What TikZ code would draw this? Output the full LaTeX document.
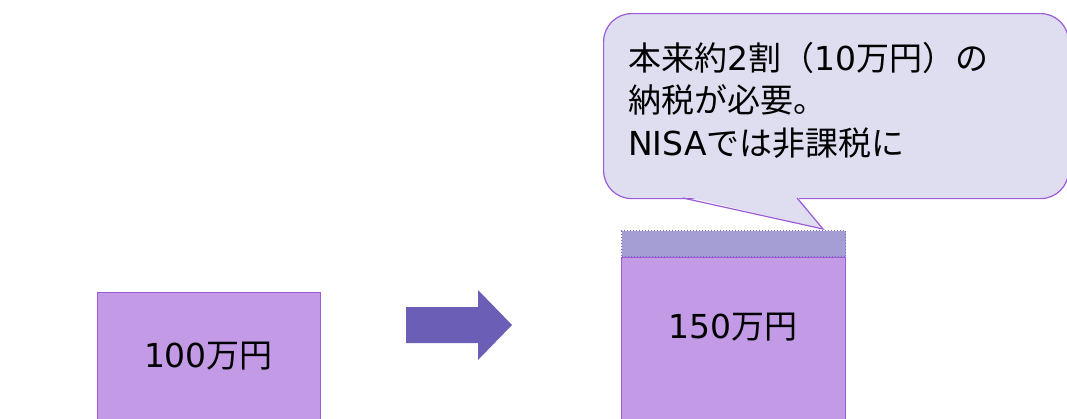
\documentclass[tikz,border=0pt]{standalone}
\usepackage{fontspec}
\setmainfont{Noto Sans CJK JP}
\newfontfamily\lat{DejaVu Sans}
\definecolor{boxfill}{HTML}{C39AE6}
\definecolor{boxline}{HTML}{9B5CD6}
\definecolor{arrowc}{HTML}{6A5EB7}
\definecolor{bandfill}{HTML}{A49ED4}
\definecolor{bandline}{HTML}{7B6BC9}
\definecolor{notefill}{HTML}{DFDEF0}
\tikzset{
  amount/.style={draw=boxline, fill=boxfill, line width=1.2pt, inner sep=0pt},
  band/.style={draw=bandline, fill=bandfill, dotted, line width=1pt, inner sep=0pt},
  notebox/.style={draw=boxline, fill=notefill, line width=1.2pt, rounded corners=28pt, inner sep=0pt},
  bigtext/.style={font=\fontsize{33}{42.5}\selectfont, inner sep=0pt},
}
\begin{document}
\begin{tikzpicture}[x=1pt,y=-1pt]
\useasboundingbox (0,0) rectangle (1067,418);
\begin{scope}
\clip (0,0) rectangle (1067,418);
% left box
\node[amount, minimum width=223pt, minimum height=140pt, anchor=north west] (old) at (97,292) {};
\node[bigtext, anchor=base] (oldtxt) at (208.5,367) {{\lat 100}万円};
% arrow
\fill[arrowc] (406,307) -- (478,307) -- (478,290) -- (512,325) -- (478,360) -- (478,343) -- (406,343) -- cycle;
% right box
\node[amount, minimum width=224pt, minimum height=175pt, anchor=north west] (new) at (621,257) {};
\node[band, minimum width=224pt, minimum height=26pt, anchor=south west] (tax) at (621,257) {};
\node[bigtext, anchor=base] (newtxt) at (733,338) {{\lat 150}万円};
% callout
\node[notebox, minimum width=465pt, minimum height=185pt, anchor=north west] (note) at (603,13) {};
\coordinate (tip) at (823,229);
\fill[notefill] (683,196) -- (tip) -- (797,196) -- cycle;
\draw[boxline, line width=1.2pt, line join=miter] (683,198) -- (tip) -- (797,198);
\node[bigtext, anchor=north west, align=left] (notetxt) at (628,42) {本来約{\lat 2}割（{\lat 10}万円）の\\納税が必要。\\{\lat NISA}では非課税に};
\end{scope}
\end{tikzpicture}
\end{document}
